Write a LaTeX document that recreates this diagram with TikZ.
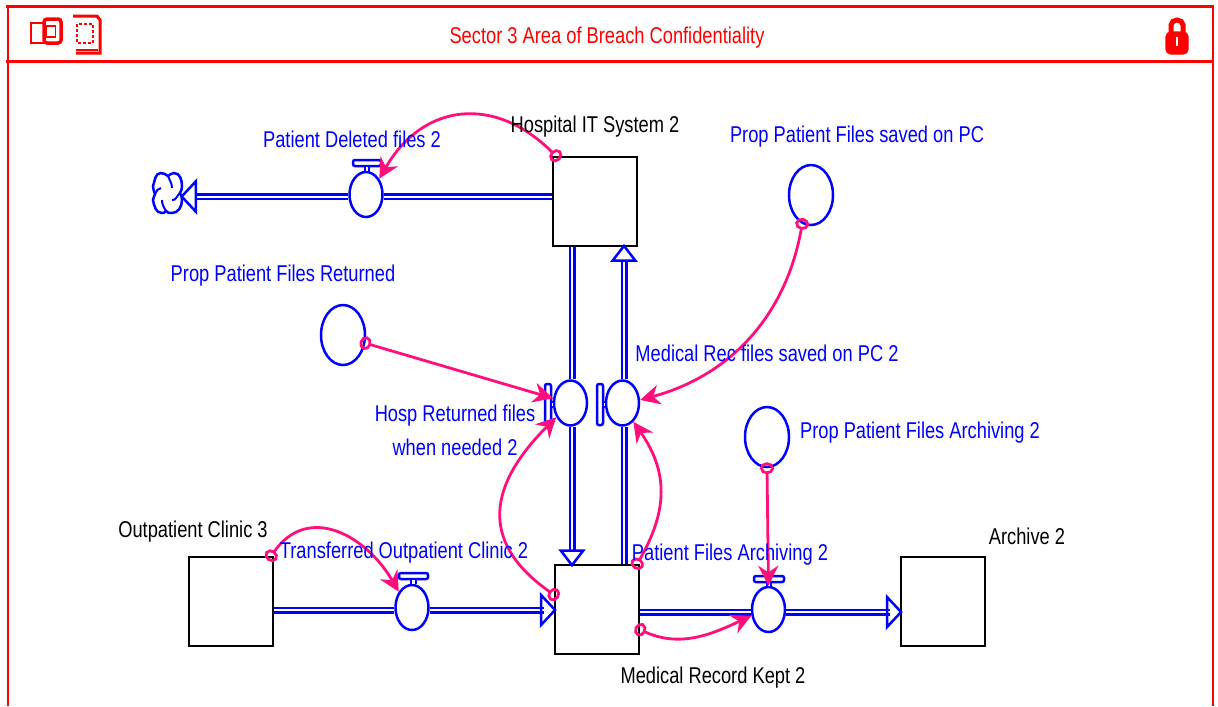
\documentclass[tikz,border=0pt]{standalone}
\usepackage{fontspec}
\setmainfont{Liberation Sans}
\usepackage{xcolor}
\usepackage{tikz}
\usetikzlibrary{arrows.meta,shapes.geometric}
\definecolor{linkpink}{HTML}{FF0F7B}
\tikzset{
	stock/.style={draw=black,line width=0.025cm,minimum width=0.84cm,minimum height=0.89cm,inner sep=0pt,fill=white},
	valve/.style={ellipse,draw=blue,line width=0.025cm,minimum width=0.33cm,minimum height=0.45cm,inner sep=0pt,fill=white},
	aux/.style={ellipse,draw=blue,line width=0.025cm,minimum width=0.44cm,minimum height=0.60cm,inner sep=0pt},
	valvebar/.style={draw=blue,line width=0.025cm,rounded corners=0.02cm,inner sep=0pt,fill=white},
	valvestem/.style={draw=blue,line width=0.02cm,double=white,double distance=0.025cm},
	pipe/.style={draw=blue,line width=0.025cm,double=white,double distance=0.02cm},
	pipehead/.style={draw=white,line width=0.01cm,shorten >=-0.03cm,-{Triangle[open,length=0.17cm,width=0.36cm,line width=0.025cm,color=blue]}},
	pipeheadv/.style={draw=white,line width=0.01cm,shorten >=-0.035cm,-{Triangle[open,length=0.18cm,width=0.27cm,line width=0.025cm,color=blue]}},
	link/.style={draw=linkpink,line width=0.028cm,shorten <=-0.06cm,{Circle[open,length=0.12cm,width=0.14cm]}-{Stealth[length=0.2cm,width=0.2cm]}},
	lbl/.style={font=\fontsize{6.5}{8}\selectfont,xscale=0.8,inner sep=0pt,text=blue},
	stocklbl/.style={lbl,text=black},
	frameline/.style={draw=red,line width=0.03cm}
}
\begin{document}
\begin{tikzpicture}
	\useasboundingbox (0,0) rectangle (12.18,-7.06);
	% frame
	\draw[frameline] (0.06,-0.06) to (12.14,-0.06);
	\draw[frameline] (0.06,-0.61) to (12.14,-0.61);
	\draw[frameline,line width=0.02cm] (0.08,-0.06) to (0.08,-7.06);
	\draw[frameline,line width=0.02cm] (12.13,-0.06) to (12.13,-7.06);
	\node[lbl,text=red] (title) at (6.07,-0.38) {Sector 3 Area of Breach Confidentiality};
	% header icons
	\draw[red,line width=0.025cm] (0.31,-0.23) rectangle (0.45,-0.43);
	\draw[red,line width=0.035cm,rounded corners=0.03cm] (0.44,-0.19) rectangle (0.61,-0.43);
	\draw[red,line width=0.015cm] (0.465,-0.26) rectangle (0.555,-0.37);
	\draw[red,line width=0.02cm,dashed,dash pattern=on 0.03cm off 0.02cm] (0.77,-0.24) rectangle (0.93,-0.43);
	\draw[red,line width=0.03cm] (0.73,-0.16) to (0.97,-0.16) to (1.0,-0.2) to (1.0,-0.53) to (0.76,-0.53);
	\draw[red,line width=0.02cm] (0.76,-0.5) to (0.98,-0.5);
	\draw[red,line width=0.05cm] (11.71,-0.34) to (11.71,-0.25) to[out=90,in=180] (11.77,-0.2) to[out=0,in=90] (11.83,-0.25) to (11.83,-0.34);
	\draw[red,fill=red,rounded corners=0.05cm] (11.66,-0.32) rectangle (11.88,-0.54);
	\draw[white,line width=0.02cm] (11.77,-0.37) to (11.77,-0.46);
	% stocks
	\node[stock] (hospital) at (5.95,-2.015) {};
	\node[stock] (outpatient) at (2.31,-6.015) {};
	\node[stock] (medical) at (5.97,-6.095) {};
	\node[stock] (archive) at (9.43,-6.015) {};
	% valves
	\node[valve] (deleted) at (3.66,-1.945) {};
	\node[valve] (returned) at (5.705,-4.03) {};
	\node[valve] (saved) at (6.225,-4.03) {};
	\node[valve] (transferred) at (4.12,-6.075) {};
	\node[valve] (archiving) at (7.685,-6.095) {};
	\node[valvebar,minimum width=0.28cm,minimum height=0.06cm] (deletedbar) at (3.67,-1.63) {};
	\node[valvebar,minimum width=0.06cm,minimum height=0.41cm] (returnedbar) at (5.48,-4.045) {};
	\node[valvebar,minimum width=0.06cm,minimum height=0.41cm] (savedbar) at (6.0,-4.045) {};
	\node[valvebar,minimum width=0.29cm,minimum height=0.06cm] (transferredbar) at (4.135,-5.76) {};
	\node[valvebar,minimum width=0.3cm,minimum height=0.06cm] (archivingbar) at (7.69,-5.79) {};
	\draw[valvestem] (deletedbar.south) to (deletedbar.south |- deleted.north);
	\draw[valvestem] (returnedbar.east) to (returned.west |- returnedbar.east);
	\draw[valvestem] (savedbar.east) to (saved.west |- savedbar.east);
	\draw[valvestem] (transferredbar.south) to (transferredbar.south |- transferred.north);
	\draw[valvestem] (archivingbar.south) to (archivingbar.south |- archiving.north);
	% cloud
	\draw[blue,line width=0.025cm] (1.68,-1.76) to[out=150,in=0] (1.61,-1.73) to[out=180,in=70] (1.53,-1.86) to[out=-110,in=90] (1.55,-1.94) to[out=-90,in=100] (1.53,-2.0) to[out=-80,in=180] (1.62,-2.13) to[out=0,in=-120] (1.66,-2.11) to[out=-60,in=180] (1.72,-2.13) to[out=0,in=-90] (1.82,-2.0) to[out=90,in=-60] (1.8,-1.93) to[out=60,in=-90] (1.82,-1.86) to[out=90,in=0] (1.74,-1.73) to[out=180,in=30] (1.68,-1.76);
	\draw[blue,line width=0.02cm] (1.68,-1.76) to[out=-70,in=90] (1.72,-1.88);
	\draw[blue,line width=0.02cm] (1.55,-1.94) to[out=60,in=180] (1.61,-1.88);
	\draw[blue,line width=0.02cm] (1.62,-2.0) to[out=-90,in=120] (1.66,-2.11);
	\draw[blue,line width=0.02cm] (1.72,-2.0) to[out=-10,in=220] (1.8,-1.93);
	% auxiliaries
	\node[aux] (propsaved) at (8.11,-1.95) {};
	\node[aux] (propreturned) at (3.43,-3.35) {};
	\node[aux] (proparchiving) at (7.67,-4.37) {};
	% pipes
	\coordinate (cloudtip) at (1.83,-1.965);
	\draw[pipe] (hospital.west |- 0,-1.965) to (deleted.east |- 0,-1.965);
	\draw[pipe] (deleted.west |- 0,-1.965) to (1.97,-1.965);
	\draw[pipehead] (2.0,-1.965) to (cloudtip);
	\draw[pipe] (5.72,0 |- hospital.south) to (5.72,0 |- returned.north);
	\draw[pipe] (5.72,0 |- returned.south) to (5.72,-5.5);
	\draw[pipeheadv] (5.72,-5.45) to (5.72,0 |- medical.north);
	\draw[pipe] (6.24,0 |- medical.north) to (6.24,0 |- saved.south);
	\draw[pipe] (6.24,0 |- saved.north) to (6.24,-2.62);
	\draw[pipeheadv] (6.24,-2.66) to (6.24,0 |- hospital.south);
	\draw[pipe] (outpatient.east |- 0,-6.1) to (transferred.west |- 0,-6.1);
	\draw[pipe] (transferred.east |- 0,-6.1) to (5.44,-6.1);
	\draw[pipehead] (5.35,-6.1) to (medical.west |- 0,-6.1);
	\draw[pipe] (medical.east |- 0,-6.12) to (archiving.west |- 0,-6.12);
	\draw[pipe] (archiving.east |- 0,-6.12) to (8.9,-6.12);
	\draw[pipehead] (8.81,-6.12) to (archive.west |- 0,-6.12);
	% links
	\draw[link] ([xshift=0.04cm]hospital.north west) to[out=135,in=60,looseness=1.25] (deleted.50);
	\draw[link] (propsaved.-107) to[out=-100,in=15] (saved.10);
	\draw[link] (propreturned.-20) to (returned.165);
	\draw[link] (medical.161) to[out=145,in=225,looseness=1.35] (returned.-135);
	\draw[link] ([xshift=-0.03cm]medical.north east) to[out=60,in=-55,looseness=1.1] (saved.-60);
	\draw[link] ([xshift=-0.03cm]outpatient.north east) to[out=55,in=120,looseness=1.25] (transferred.130);
	\draw[link] (proparchiving.south) to (archiving.north);
	\draw[link] (medical.-25) to[out=-25,in=205] (archiving.200);
	% labels
	\node[stocklbl] (hospitallbl) at (5.95,-1.27) {Hospital IT System 2};
	\node[lbl] (deletedlbl) at (3.52,-1.39) {Patient Deleted files 2};
	\node[lbl] (propsavedlbl) at (8.57,-1.37) {Prop Patient Files saved on PC};
	\node[lbl] (propreturnedlbl) at (2.83,-2.76) {Prop Patient Files Returned};
	\node[lbl] (savedlbl) at (7.67,-3.53) {Medical Rec files saved on PC 2};
	\node[lbl,align=center] (returnedlbl) at (4.55,-4.3) {Hosp Returned files\\[0.06cm]when needed 2};
	\node[lbl] (proparchivinglbl) at (9.2,-4.33) {Prop Patient Files Archiving 2};
	\node[stocklbl] (outpatientlbl) at (1.93,-5.32) {Outpatient Clinic 3};
	\node[lbl] (transferredlbl) at (4.04,-5.53) {Transferred Outpatient Clinic 2};
	\node[lbl] (archivinglbl) at (7.3,-5.55) {Patient Files Archiving 2};
	\node[stocklbl] (archivelbl) at (10.27,-5.36) {Archive 2};
	\node[stocklbl] (medicallbl) at (7.13,-6.78) {Medical Record Kept 2};
\end{tikzpicture}
\end{document}
